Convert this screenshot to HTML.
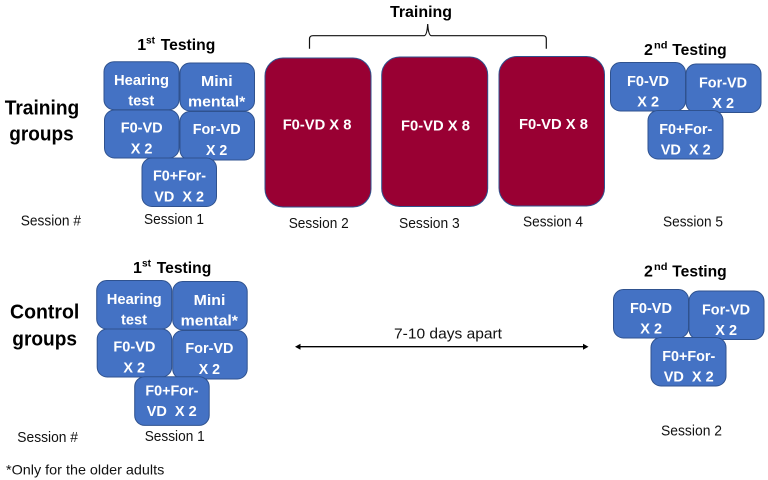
<!DOCTYPE html>
<html><head><meta charset="utf-8"><style>
html,body{margin:0;padding:0;background:#fff}
svg{display:block}
text{font-family:"Liberation Sans",sans-serif}
.w{fill:#fff;font-weight:bold;font-size:15px}
.b{fill:#000;font-weight:bold}
.t{fill:#111;font-size:15px}
.bx{fill:#4472C4;stroke:#2F528F;stroke-width:1}
.rd{fill:#990033;stroke:#2F528F;stroke-width:1}
</style></head><body>
<svg width="768" height="480" viewBox="0 0 768 480" xmlns="http://www.w3.org/2000/svg">
<rect width="768" height="480" fill="#fff"/>

<text class="b" x="390" y="17" font-size="16" textLength="62" lengthAdjust="spacingAndGlyphs">Training</text>
<path d="M309.5 48.7 V39 Q309.5 35.7 313 35.7 H424 Q427 35.7 427.7 24 Q428.4 35.7 431.5 35.7 H543 Q546.3 35.7 546.3 39 V48.7" fill="none" stroke="#111" stroke-width="1.2"/>

<text class="b" x="4.7" y="114.5" font-size="20" textLength="74.6" lengthAdjust="spacingAndGlyphs">Training</text>
<text class="b" x="9.3" y="140.5" font-size="20" textLength="64.4" lengthAdjust="spacingAndGlyphs">groups</text>
<text class="b" x="10" y="318.3" font-size="20" textLength="69.3" lengthAdjust="spacingAndGlyphs">Control</text>
<text class="b" x="12.3" y="345.5" font-size="20" textLength="64.7" lengthAdjust="spacingAndGlyphs">groups</text>

<!-- 1st testing, training -->
<text class="b" x="137.3" y="50" font-size="16">1</text>
<text class="b" x="146" y="43.5" font-size="10" textLength="9" lengthAdjust="spacingAndGlyphs">st</text>
<text class="b" x="160.7" y="50" font-size="16" textLength="54.6" lengthAdjust="spacingAndGlyphs">Testing</text>
<rect class="bx" x="104" y="61.7" width="75" height="48" rx="10"/>
<rect class="bx" x="180" y="63" width="74.5" height="48" rx="10"/>
<rect class="bx" x="104.5" y="110" width="74.5" height="48" rx="10"/>
<rect class="bx" x="180" y="111.5" width="74.5" height="48.5" rx="10"/>
<rect class="bx" x="142" y="158" width="74.5" height="48.5" rx="10"/>
<text class="w" x="114" y="85" textLength="55" lengthAdjust="spacingAndGlyphs">Hearing</text>
<text class="w" x="128.3" y="105.5" textLength="26" lengthAdjust="spacingAndGlyphs">test</text>
<text class="w" x="201" y="86" textLength="31.7" lengthAdjust="spacingAndGlyphs">Mini</text>
<text class="w" x="188" y="106.5" textLength="57.3" lengthAdjust="spacingAndGlyphs">mental*</text>
<text class="w" x="120.7" y="132.7" textLength="42" lengthAdjust="spacingAndGlyphs">F0-VD</text>
<text class="w" x="130.7" y="153.3" textLength="21.7" lengthAdjust="spacingAndGlyphs">X 2</text>
<text class="w" x="192.7" y="134" textLength="48" lengthAdjust="spacingAndGlyphs">For-VD</text>
<text class="w" x="206" y="155" textLength="21.3" lengthAdjust="spacingAndGlyphs">X 2</text>
<text class="w" x="153" y="180.7" textLength="53" lengthAdjust="spacingAndGlyphs">F0+For-</text>
<text class="w" x="154.3" y="201.3" textLength="49.7" lengthAdjust="spacingAndGlyphs" xml:space="preserve">VD  X 2</text>

<!-- sessions, red -->
<rect class="rd" x="265" y="58" width="106" height="149" rx="18"/>
<rect class="rd" x="381.7" y="57" width="106" height="149.5" rx="18"/>
<rect class="rd" x="499" y="56.5" width="105.5" height="149.5" rx="18"/>
<text class="w" x="282.7" y="129.3" textLength="68.7" lengthAdjust="spacingAndGlyphs">F0-VD X 8</text>
<text class="w" x="401" y="130.7" textLength="69" lengthAdjust="spacingAndGlyphs">F0-VD X 8</text>
<text class="w" x="519" y="129" textLength="69" lengthAdjust="spacingAndGlyphs">F0-VD X 8</text>

<!-- 2nd testing, training -->
<text class="b" x="644" y="55" font-size="16">2</text>
<text class="b" x="654" y="48.5" font-size="10" textLength="13.5" lengthAdjust="spacingAndGlyphs">nd</text>
<text class="b" x="672.3" y="55" font-size="16" textLength="54.4" lengthAdjust="spacingAndGlyphs">Testing</text>
<rect class="bx" x="610.5" y="62.5" width="75" height="48.5" rx="10"/>
<rect class="bx" x="686" y="64" width="75" height="48.5" rx="10"/>
<rect class="bx" x="648" y="110.5" width="75" height="48.5" rx="10"/>
<text class="w" x="627" y="86" textLength="42" lengthAdjust="spacingAndGlyphs">F0-VD</text>
<text class="w" x="637.3" y="106.7" textLength="21.7" lengthAdjust="spacingAndGlyphs">X 2</text>
<text class="w" x="699" y="87.3" textLength="48" lengthAdjust="spacingAndGlyphs">For-VD</text>
<text class="w" x="712.3" y="108" textLength="21.7" lengthAdjust="spacingAndGlyphs">X 2</text>
<text class="w" x="659.3" y="134" textLength="53" lengthAdjust="spacingAndGlyphs">F0+For-</text>
<text class="w" x="660.7" y="154.5" textLength="50" lengthAdjust="spacingAndGlyphs" xml:space="preserve">VD  X 2</text>

<text class="t" x="20.7" y="225.3" textLength="60.3" lengthAdjust="spacingAndGlyphs">Session #</text>
<text class="t" x="144" y="224" textLength="60" lengthAdjust="spacingAndGlyphs">Session 1</text>
<text class="t" x="288.7" y="228" textLength="60" lengthAdjust="spacingAndGlyphs">Session 2</text>
<text class="t" x="399" y="228" textLength="60.7" lengthAdjust="spacingAndGlyphs">Session 3</text>
<text class="t" x="523" y="226.7" textLength="60" lengthAdjust="spacingAndGlyphs">Session 4</text>
<text class="t" x="663" y="226.7" textLength="60" lengthAdjust="spacingAndGlyphs">Session 5</text>

<!-- 1st testing, control -->
<text class="b" x="133" y="273" font-size="16">1</text>
<text class="b" x="142" y="266.5" font-size="10" textLength="9" lengthAdjust="spacingAndGlyphs">st</text>
<text class="b" x="156.7" y="273" font-size="16" textLength="54.6" lengthAdjust="spacingAndGlyphs">Testing</text>
<rect class="bx" x="96.7" y="280.5" width="75" height="48.5" rx="10"/>
<rect class="bx" x="172.7" y="281.5" width="74.5" height="48.5" rx="10"/>
<rect class="bx" x="97.2" y="329" width="74.5" height="48" rx="10"/>
<rect class="bx" x="172.7" y="330.5" width="74.5" height="48.5" rx="10"/>
<rect class="bx" x="134.7" y="376.7" width="74.5" height="48.7" rx="10"/>
<text class="w" x="106.7" y="304" textLength="55" lengthAdjust="spacingAndGlyphs">Hearing</text>
<text class="w" x="121" y="324.5" textLength="26" lengthAdjust="spacingAndGlyphs">test</text>
<text class="w" x="193.7" y="305" textLength="31.7" lengthAdjust="spacingAndGlyphs">Mini</text>
<text class="w" x="180.7" y="325.5" textLength="57.3" lengthAdjust="spacingAndGlyphs">mental*</text>
<text class="w" x="113.4" y="351.7" textLength="42" lengthAdjust="spacingAndGlyphs">F0-VD</text>
<text class="w" x="123.4" y="372.3" textLength="21.7" lengthAdjust="spacingAndGlyphs">X 2</text>
<text class="w" x="185.4" y="353" textLength="48" lengthAdjust="spacingAndGlyphs">For-VD</text>
<text class="w" x="198.7" y="374" textLength="21.3" lengthAdjust="spacingAndGlyphs">X 2</text>
<text class="w" x="145.4" y="395.3" textLength="53" lengthAdjust="spacingAndGlyphs">F0+For-</text>
<text class="w" x="146.7" y="416" textLength="50" lengthAdjust="spacingAndGlyphs" xml:space="preserve">VD  X 2</text>

<!-- arrow -->
<text class="t" x="394" y="338.7" textLength="108" lengthAdjust="spacingAndGlyphs">7-10 days apart</text>
<line x1="298" y1="346.7" x2="586" y2="346.7" stroke="#000" stroke-width="1.3"/>
<path d="M295 346.7 L300.5 343.7 V349.7 Z M588.5 346.7 L583 343.7 V349.7 Z" fill="#000"/>

<!-- 2nd testing, control -->
<text class="b" x="644" y="276.7" font-size="16">2</text>
<text class="b" x="654" y="270.2" font-size="10" textLength="13.5" lengthAdjust="spacingAndGlyphs">nd</text>
<text class="b" x="672.3" y="276.7" font-size="16" textLength="54.4" lengthAdjust="spacingAndGlyphs">Testing</text>
<rect class="bx" x="613.5" y="289.5" width="75" height="48.5" rx="10"/>
<rect class="bx" x="689" y="291" width="75" height="48.5" rx="10"/>
<rect class="bx" x="651" y="337.5" width="75" height="48.5" rx="10"/>
<text class="w" x="630" y="313" textLength="42" lengthAdjust="spacingAndGlyphs">F0-VD</text>
<text class="w" x="640.3" y="333.7" textLength="21.7" lengthAdjust="spacingAndGlyphs">X 2</text>
<text class="w" x="702" y="314.3" textLength="48" lengthAdjust="spacingAndGlyphs">For-VD</text>
<text class="w" x="715.3" y="335" textLength="21.7" lengthAdjust="spacingAndGlyphs">X 2</text>
<text class="w" x="662.3" y="361" textLength="53" lengthAdjust="spacingAndGlyphs">F0+For-</text>
<text class="w" x="663.7" y="381.5" textLength="50" lengthAdjust="spacingAndGlyphs" xml:space="preserve">VD  X 2</text>

<text class="t" x="17.3" y="442" textLength="60.7" lengthAdjust="spacingAndGlyphs">Session #</text>
<text class="t" x="144.7" y="441" textLength="60" lengthAdjust="spacingAndGlyphs">Session 1</text>
<text class="t" x="661" y="435.3" textLength="61" lengthAdjust="spacingAndGlyphs">Session 2</text>
<text class="t" x="6" y="474.3" style="font-size:14px" textLength="158.3" lengthAdjust="spacingAndGlyphs">*Only for the older adults</text>
</svg>
</body></html>
